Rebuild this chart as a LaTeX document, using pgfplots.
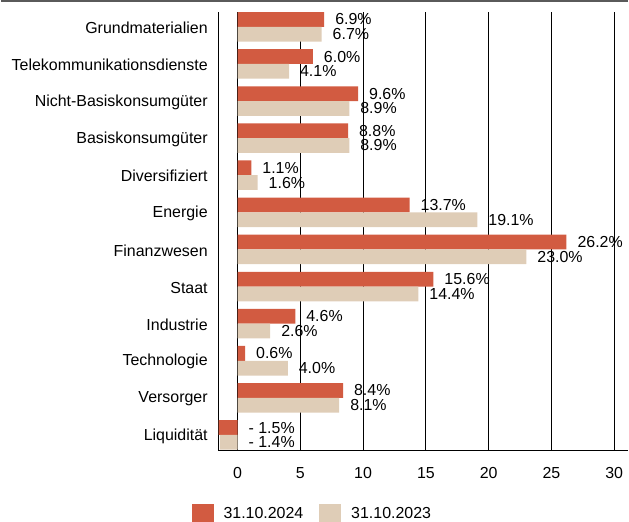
\documentclass[border=0pt]{standalone}
\usepackage{fontspec}
\setmainfont{Liberation Sans}
\usepackage{pgfplots}
\usepackage{pgfplotstable}
\pgfplotsset{compat=1.18}
\definecolor{cred}{HTML}{D25B41}
\definecolor{cbeige}{HTML}{DFCDB7}
\definecolor{topgray}{HTML}{5A5A5A}
\pgfplotstableread{
y v24 v23 lx24 lx23 t24 t23
11 6.9 6.7 6.9 6.7 6.9 6.7
10 6.0 4.1 6.0 4.1 6.0 4.1
9 9.6 8.9 9.6 8.9 9.6 8.9
8 8.8 8.9 8.8 8.9 8.8 8.9
7 1.1 1.6 1.1 1.6 1.1 1.6
6 13.7 19.1 13.7 19.1 13.7 19.1
5 26.2 23.0 26.2 23.0 26.2 23.0
4 15.6 14.4 15.6 14.4 15.6 14.4
3 4.6 2.6 4.6 2.6 4.6 2.6
2 0.6 4.0 0.6 4.0 0.6 4.0
1 8.4 8.1 8.4 8.1 8.4 8.1
0 -1.5 -1.4 0 0 {- 1.5} {- 1.4}
}\data
\begin{document}
\begin{tikzpicture}[font=\fontsize{12}{14}\selectfont]
\begin{axis}[
  name=ax,
  scale only axis, width=308pt, height=329.8pt,
  xbar, bar width=11.1pt,
  xmin=-1.51, xmax=31.1,
  ymin=-0.42, ymax=11.395,
  ytick={0,...,11},
  yticklabels={Liquidität,Versorger,Technologie,Industrie,Staat,Finanzwesen,Energie,Diversifiziert,Basiskonsumgüter,Nicht-Basiskonsumgüter,Telekommunikationsdienste,Grundmaterialien},
  xtick={0,5,...,30},
  major tick length=0pt,
  xmajorgrids, grid style={black, line width=0.75pt},
  axis x line*=bottom, axis y line*=left,
  axis line style={black, line width=0.75pt, -},
  /pgf/number format/assume math mode=true,
  xticklabel style={yshift=-9pt},
  yticklabel style={xshift=-4.7pt, yshift=-0.8pt},
  clip=false,
  legend style={at={(axis description cs:-0.0665,-0.145)}, anchor=west, draw=none, fill=none, inner sep=0pt,
    /tikz/every odd column/.append style={column sep=7.5pt},
    /tikz/every even column/.append style={column sep=12pt},
    nodes={inner sep=0pt}},
  legend columns=2,
  legend cell align=left,
  legend image code/.code={\fill[#1] (0pt,-7.5pt) rectangle (16.5pt,7.5pt);},
  nodes near coords style={anchor=west, xshift=4.8pt, font=\fontsize{12}{14}\selectfont},
]
\addplot[fill=cred, draw=none, bar shift=5.55pt] table[x=v24, y=y] {\data};
\addlegendentry{31.10.2024}
\addplot[fill=cbeige, draw=none, bar shift=-5.55pt] table[x=v23, y=y] {\data};
\addlegendentry{31.10.2023}
\addplot[draw=none, fill=none, bar shift=5.55pt, forget plot, nodes near coords={\pgfplotspointmeta\%}, point meta=explicit symbolic] table[x=lx24, y=y, meta=t24] {\data};
\addplot[draw=none, fill=none, bar shift=-5.55pt, forget plot, nodes near coords={\pgfplotspointmeta\%}, point meta=explicit symbolic] table[x=lx23, y=y, meta=t23] {\data};
\end{axis}
\pgfresetboundingbox
\path ([xshift=-163.7pt, yshift=-53.5pt]ax.south west) rectangle ([yshift=9pt]ax.north east);
\draw[line width=1.5pt, topgray] ([xshift=-163.7pt, yshift=8.4pt]ax.north west) -- ([yshift=8.4pt]ax.north east);
\end{tikzpicture}
\end{document}
